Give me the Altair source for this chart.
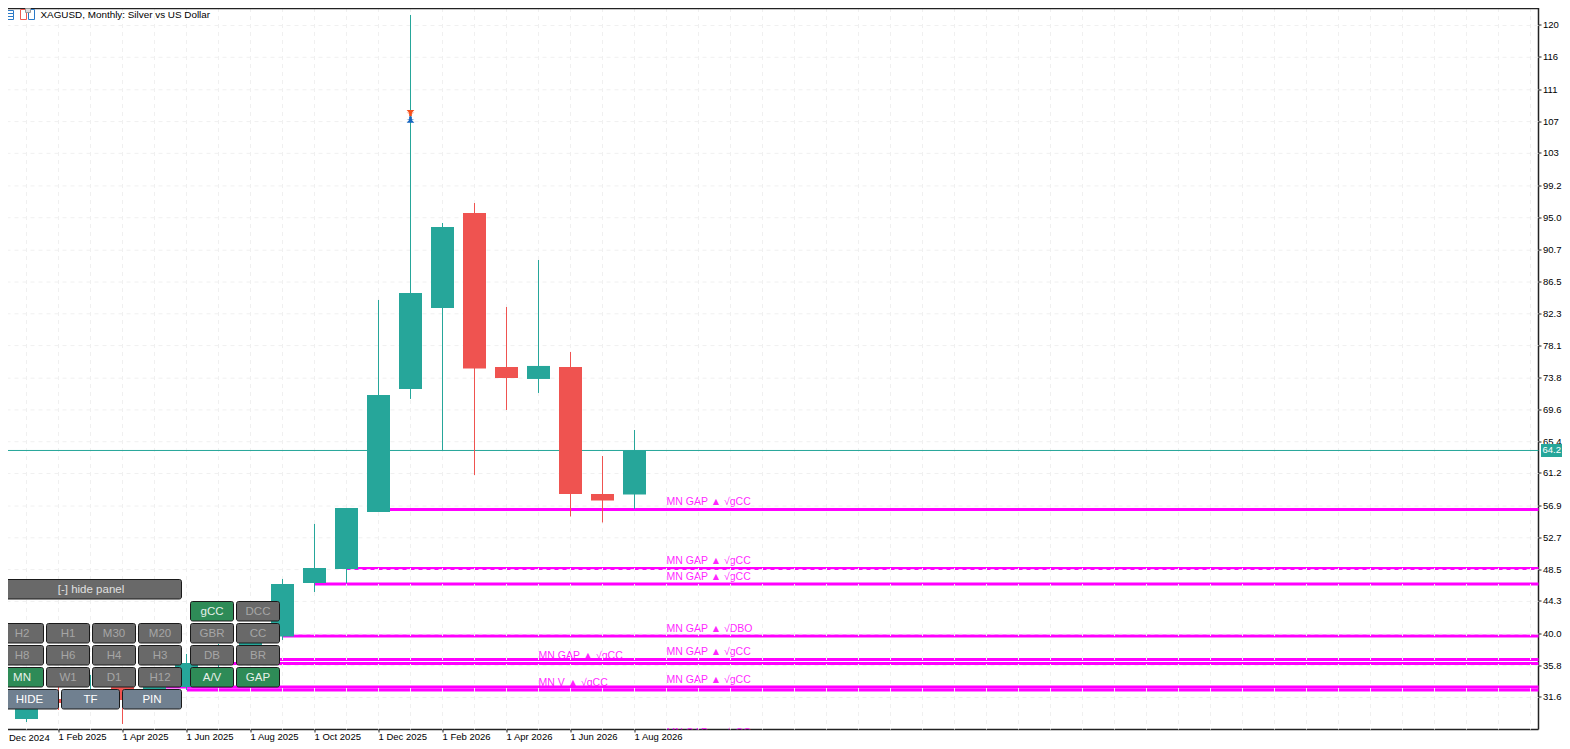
import altair as alt
import pandas as pd

FONT = "Liberation Sans"
TEAL = "#26a69a"
RED = "#ef5350"
MAGENTA = "#ff00ff"

month_labels = ["1 Dec 2024", "1 Jan 2025", "1 Feb 2025", "1 Mar 2025", "1 Apr 2025", "1 May 2025", "1 Jun 2025",
                "1 Jul 2025", "1 Aug 2025", "1 Sep 2025", "1 Oct 2025", "1 Nov 2025", "1 Dec 2025", "1 Jan 2026",
                "1 Feb 2026", "1 Mar 2026", "1 Apr 2026", "1 May 2026", "1 Jun 2026", "1 Jul 2026", "1 Aug 2026"]
opens = [30.21, 28.76, 31.40, 31.27, 32.99, 32.06, 32.99, 36.16, 36.56, 39.66, 46.73, 48.58, 56.11, 72.37,
         83.07, 95.62, 75.27, 73.69, 75.27, 58.49, 58.43]
closes = [28.76, 30.87, 30.87, 32.72, 31.27, 32.99, 36.16, 36.56, 38.80, 46.60, 48.71, 56.64, 71.57, 85.05,
          93.77, 75.08, 73.82, 75.41, 58.49, 57.63, 64.24]
highs = [30.74, 31.67, 32.99, 34.58, 33.25, 33.91, 37.35, 38.67, 39.86, 47.26, 54.53, 56.64, 84.13, 121.79,
         94.30, 96.94, 83.20, 89.41, 77.26, 63.51, 66.95]
lows = [28.36, 28.36, 29.95, 30.87, 28.10, 31.27, 32.59, 35.50, 36.29, 39.20, 45.54, 46.73, 56.11, 71.05,
        64.24, 61.00, 69.59, 71.84, 55.52, 54.73, 56.51]

y_ticks = [120.4, 116.2, 111.9, 107.7, 103.5, 99.2, 95.0, 90.7, 86.5, 82.3, 78.1, 73.8, 69.6, 65.4, 61.2,
           56.9, 52.7, 48.5, 44.3, 40.0, 35.8, 31.6]
y_labels = ["120", "116", "111", "107", "103", "99.2", "95.0", "90.7", "86.5", "82.3", "78.1", "73.8", "69.6",
            "65.4", "61.2", "56.9", "52.7", "48.5", "44.3", "40.0", "35.8", "31.6"]
last_price = 64.24

gap_levels = [56.44, 48.65, 46.60, 39.73, 36.62, 36.09, 32.99, 32.59]
gap_start = [12, 11, 10, 9, 8, 7, 5, 6]

note_text = ["MN GAP ▲ √gCC", "MN GAP ▲ √gCC", "MN GAP ▲ √gCC", "MN GAP ▲ √DBO", "MN GAP ▲ √gCC",
             "MN GAP ▲ √gCC", "MN GAP ▲ √gCC", "MN GAP ▲ √gCC", "MN V ▲ √gCC"]
note_month = [21, 21, 21, 21, 21, 21, 21, 17, 17]
note_level = [57.43, 49.60, 47.49, 40.65, 37.57, 33.91, 26.91, 37.09, 33.52]

arrow_level = [108.88, 107.91]

W, H = 1530.5, 721.5
x_scale = alt.Scale(domain=[0.421875, 48.25], nice=False, zero=False, padding=0)
y_scale = alt.Scale(domain=[27.37, 122.71], nice=False, zero=False)

candles = pd.DataFrame({"i": range(len(opens)), "open": opens, "close": closes, "high": highs, "low": lows})
candles["col"] = [TEAL if c >= o else RED for o, c in zip(opens, closes)]
one = pd.DataFrame({"a": [0]})

tick_months = list(range(2, 21, 2))
x_expr = "[" + ",".join(f"'{m}'" for m in month_labels) + "][datum.value]"
y_expr = "{" + ",".join(f"'{v:g}':'{t}'" for v, t in zip(y_ticks, y_labels)) + "}[''+datum.value]"

x_axis = alt.Axis(
    values=tick_months, labelExpr=x_expr, orient="bottom", grid=False, translate=0, title=None,
    labelAlign="left", labelBaseline="middle", labelPadding=4.5, labelFont=FONT, labelFontSize=9.5,
    labelColor="#000", labelFlush=False, labelOverlap=False, labelBound=False, tickSize=3,
    tickColor="#222", domainColor="#222", domainWidth=1.5)
y_axis = alt.Axis(
    values=y_ticks, labelExpr=y_expr, orient="right", grid=False, translate=0, title=None, labelFont=FONT,
    labelFontSize=9.5, labelColor="#000", labelOverlap=False, labelFlush=False, labelBound=False,
    labelPadding=1.5, tickSize=3, tickColor="#222", domainColor="#222", domainWidth=1.5)

X = alt.X("i:Q", scale=x_scale, axis=x_axis)
Y = alt.Y("v:Q", scale=y_scale, axis=y_axis)

layers = []

# annotation texts (lines are drawn over them)
notes = pd.DataFrame({"i": note_month, "v": note_level, "t": note_text})
layers.append(alt.Chart(notes).mark_text(align="left", baseline="middle", font=FONT, fontSize=10.5,
                                         color=MAGENTA, opacity=0.85, clip=True).encode(x=X, y=Y, text="t:N"))

# gap levels
gaps = pd.DataFrame({"i": gap_start, "v": gap_levels})
layers.append(alt.Chart(gaps).mark_rule(color=MAGENTA, strokeWidth=3).encode(
    x=X, x2=alt.value(W), y=Y))

# grid
grid_x = pd.DataFrame({"i": list(range(1, 49))})
layers.append(alt.Chart(grid_x).mark_rule(color="#f0f0f0", strokeWidth=1, strokeDash=[4, 4]).encode(x=X))
grid_y = pd.DataFrame({"v": y_ticks})
layers.append(alt.Chart(grid_y).mark_rule(color="#f0f0f0", strokeWidth=1, strokeDash=[4, 4]).encode(y=Y))

# last price
price = pd.DataFrame({"v": [last_price]})
layers.append(alt.Chart(price).mark_rule(color=TEAL, strokeWidth=1).encode(y=Y))
layers.append(alt.Chart(price).mark_rule(color=TEAL, strokeWidth=13).encode(
    x=alt.value(1533), x2=alt.value(1554), y=Y))
layers.append(alt.Chart(price).mark_text(align="left", baseline="middle", font=FONT, fontSize=9.5,
                                         color="#ffffff").encode(
    x=alt.value(1534.5), y=Y, text=alt.Text("v:Q", format=".1f")))

# candles
layers.append(alt.Chart(candles).mark_rule(strokeWidth=1, clip=True).encode(
    x=X, y=alt.Y("low:Q", scale=y_scale, axis=y_axis), y2="high:Q", color=alt.Color("col:N", scale=None)))
layers.append(alt.Chart(candles).mark_bar(size=23, orient="vertical", clip=True).encode(
    x=X, y=alt.Y("open:Q", scale=y_scale, axis=y_axis), y2="close:Q", color=alt.Color("col:N", scale=None)))

# signal arrows on the January 2026 candle
DOWN = "M-1,-0.7 L1,-0.7 L0.35,0 L1,0 L0.35,0.2 L0.35,0.9 L-0.35,0.9 L-0.35,0.2 L-1,0 L-0.35,0 Z"
UP = "M-0.35,-0.9 L0.35,-0.9 L0.35,-0.2 L1,0 L0.35,0 L1,0.7 L-1,0.7 L-0.35,0 L-1,0 L-0.35,-0.2 Z"
arrows = pd.DataFrame({"i": [13, 13], "v": arrow_level, "s": [DOWN, UP], "c": ["#f4511e", "#1565c0"]})
for idx in (0, 1):
    layers.append(alt.Chart(arrows.iloc[[idx]]).mark_point(
        shape=arrows.s[idx], filled=True, size=60, color=arrows.c[idx], opacity=1).encode(x=X, y=Y))

# top frame line
layers.append(alt.Chart(one).mark_rule(color="#222", strokeWidth=1.5).encode(
    x=alt.value(0), x2=alt.value(W), y=alt.value(0.5)))


def rect(x0, x1, y0, y1, **kw):
    """Rectangle in page pixels (the chart origin sits at 8,8)."""
    return alt.Chart(one).mark_rect(**kw).encode(
        x=alt.value(x0 - 8), x2=alt.value(x1 - 8), y=alt.value(y0 - 8), y2=alt.value(y1 - 8))


def label(x, y, t, **kw):
    return alt.Chart(one).mark_text(baseline="middle", font=FONT, **kw).encode(
        x=alt.value(x - 8), y=alt.value(y - 8), text=alt.value(t))


# first date label, whose tick lies left of the visible window
layers.append(label(9, 737.5, "Dec 2024", fontSize=9.5, align="left", color="#000"))

# title and its icons
BLUE = "#2a79c7"
layers.append(rect(-1.5, 13.5, 10.5, 19.5, fill="#ffffff", stroke=BLUE, strokeWidth=1))
layers.append(rect(-1.5, 13.5, 13.5, 16.5, fill="#ffffff", stroke=BLUE, strokeWidth=1))
layers.append(rect(20.5, 26.5, 9.5, 19.5, fill="#ffffff", stroke="#ee5a4f", strokeWidth=1))
layers.append(rect(28.5, 34.5, 9.5, 19.5, fill="#ffffff", stroke=BLUE, strokeWidth=1))
layers.append(rect(25.5, 30.5, 8.5, 12.5, fill="#dddddd", stroke="#999999", strokeWidth=1))
layers.append(label(40.5, 15, "XAGUSD, Monthly:  Silver vs US Dollar", fontSize=9.9, align="left", color="#000"))

# panel buttons
GREY, GREEN, SLATE = "#696969", "#2e8b57", "#708090"
DIM, LIT = "#a6a6a6", "#e6f0ea"


def button(x0, x1, y0, t, fill, col, h=19.5):
    layers.append(rect(x0, x1, y0, y0 + h, fill=fill, stroke="#1a1a1a", strokeWidth=1, cornerRadius=2))
    layers.append(label((x0 + x1) / 2, y0 + h / 2 + 0.5, t, fontSize=11.5, align="center", color=col))


button(0.5, 181.5, 579.5, "[-] hide panel", GREY, "#e0e0e0")
cols4 = [(0.5, 43.5), (46.5, 89.5), (92.5, 135.5), (138.5, 181.5)]
cols2 = [(190.5, 233.5), (236.5, 279.5)]
button(*cols2[0], 601.5, "gCC", GREEN, LIT)
button(*cols2[1], 601.5, "DCC", GREY, DIM)
for row_y, names, tail in [(623.5, ["H2", "H1", "M30", "M20"], ["GBR", "CC"]),
                           (645.5, ["H8", "H6", "H4", "H3"], ["DB", "BR"]),
                           (667.5, ["MN", "W1", "D1", "H12"], ["A/V", "GAP"])]:
    for (a, b), n in zip(cols4, names):
        on = n == "MN"
        button(a, b, row_y, n, GREEN if on else GREY, LIT if on else DIM)
    for (a, b), n in zip(cols2, tail):
        on = n in ("A/V", "GAP")
        button(a, b, row_y, n, GREEN if on else GREY, LIT if on else DIM)
for (a, b), n in zip([(0.5, 58.5), (61.5, 119.5), (122.5, 181.5)], ["HIDE", "TF", "PIN"]):
    button(a, b, 689.5, n, SLATE, "#ffffff")

chart = alt.layer(*layers).properties(
    width=W, height=H, padding={"left": 0, "top": 0, "right": 23.5, "bottom": 12},
    autosize=alt.AutoSizeParams(type="none"), background="#ffffff",
).configure_view(stroke=None)

chart.save("out.html", embed_options={"renderer": "svg", "actions": False})
